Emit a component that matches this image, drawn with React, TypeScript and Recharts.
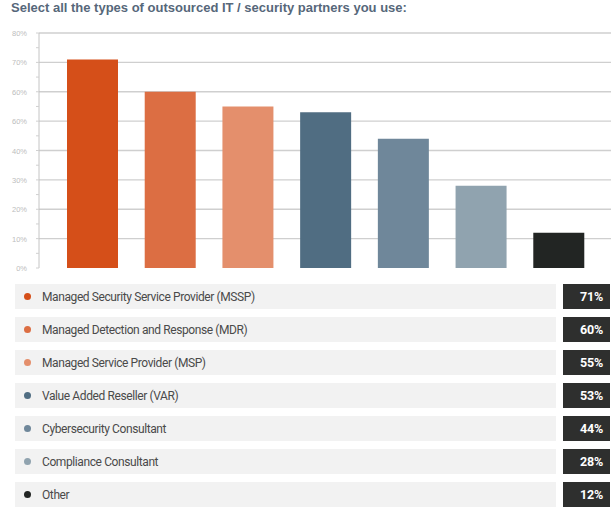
import { Bar, BarChart, CartesianGrid, Cell, XAxis, YAxis } from "recharts";

const categories = [
  "Managed Security Service Provider (MSSP)",
  "Managed Detection and Response (MDR)",
  "Managed Service Provider (MSP)",
  "Value Added Reseller (VAR)",
  "Cybersecurity Consultant",
  "Compliance Consultant",
  "Other",
];
const shares = [71, 60, 55, 53, 44, 28, 12];
const colors = ["#d54f19", "#dc6e43", "#e48f6c", "#506d82", "#6f879a", "#90a3af", "#222523"];
const yTicks = [0, 5, 10, 15, 20, 25, 30, 35, 40, 45, 50, 55, 60, 65, 70, 75, 80];
const yTickLabels = ["0%", "10%", "20%", "30%", "40%", "60%", "60%", "70%", "80%"];
const gridValues = [10, 20, 30, 40, 50, 60, 70, 80];

const data = categories.map((name, i) => ({ name, value: shares[i] }));

const YTick = (props: any) => {
  const { x, y, payload } = props;
  if (payload.value % 10 !== 0) return <g />;
  return (
    <text x={x} y={y} dy={3} textAnchor="end" fontSize={7.5} fill="#bdbdbd" fontFamily="Liberation Sans, Arial, sans-serif">
      {yTickLabels[payload.value / 10]}
    </text>
  );
};

export default function App() {
  return (
    <div style={{ position: "absolute", left: 0, top: 0, width: 614, height: 511, background: "#fff", fontFamily: "Liberation Sans, Arial, sans-serif" }}>
      <div style={{ position: "absolute", left: 11, top: 0, fontSize: 13, fontWeight: "bold", color: "#56677a" }}>
        Select all the types of outsourced IT / security partners you use:
      </div>
      <div style={{ position: "absolute", left: 0, top: 0 }}>
        <BarChart width={614} height={276} data={data} margin={{ top: 33, right: 3, bottom: 8, left: 0 }}>
          <CartesianGrid vertical={false} horizontalValues={gridValues} stroke="#cfcfcf" strokeWidth={1.3} />
          <XAxis dataKey="name" hide padding={{ left: 15, right: 13 }} />
          <YAxis
            width={39}
            domain={[0, 80]}
            ticks={yTicks}
            interval={0}
            tick={<YTick />}
            tickSize={3}
            tickMargin={9}
            axisLine={{ stroke: "#c4c4c4" }}
            tickLine={{ stroke: "#d0d0d0" }}
          />
          <Bar dataKey="value" barSize={51} isAnimationActive={false}>
            {data.map((d, i) => (
              <Cell key={d.name} fill={colors[i]} />
            ))}
          </Bar>
        </BarChart>
      </div>
      <div style={{ position: "absolute", left: 15, top: 284 }}>
        {data.map((d, i) => (
          <div key={d.name} style={{ display: "flex", height: 25, marginBottom: 8 }}>
            <div style={{ width: 541, background: "#f2f2f2", display: "flex", alignItems: "center" }}>
              <span style={{ width: 7, height: 7, borderRadius: "50%", background: colors[i], marginLeft: 9, marginRight: 11 }} />
              <span style={{ fontFamily: "Roboto, sans-serif", fontSize: 12, color: "#4a4a4a", letterSpacing: -0.4 }}>{d.name}</span>
            </div>
            <div style={{ width: 47, marginLeft: 7, background: "#2e2f2e", color: "#fff", fontFamily: "Roboto, sans-serif", fontWeight: "bold", fontSize: 12.5, letterSpacing: -0.2, display: "flex", alignItems: "center", justifyContent: "flex-end", paddingRight: 7, boxSizing: "border-box" }}>
              {d.value}%
            </div>
          </div>
        ))}
      </div>
    </div>
  );
}
